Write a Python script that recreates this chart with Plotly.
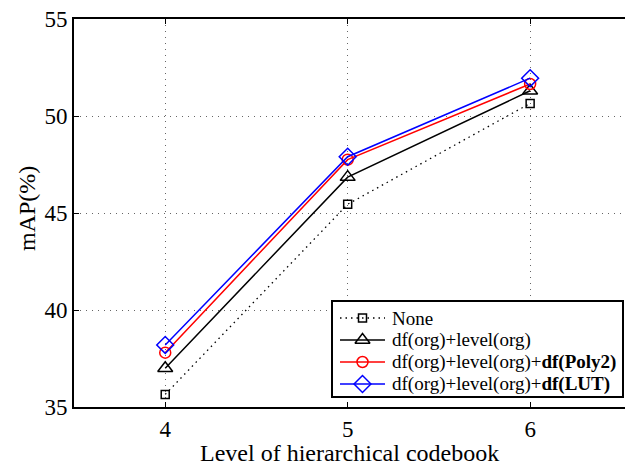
import plotly.graph_objects as go

# Codebook levels and mAP (%) for each feature configuration
levels = [4, 5, 6]
map_none = [35.65, 45.45, 50.65]
map_df_level = [37.0, 46.85, 51.3]
map_poly2 = [37.8, 47.75, 51.65]
map_lut = [38.2, 47.9, 51.95]

series_names = [
    "None",
    "df(org)+level(org)",
    "df(org)+level(org)+<b>df(Poly2)</b>",
    "df(org)+level(org)+<b>df(LUT)</b>",
]
x_ticks = [4, 5, 6]
y_ticks = [35, 40, 45, 50, 55]
x_title = "Level of hierarchical codebook"
y_title = "mAP(%)"

FONT = "Liberation Serif, Times New Roman, serif"
W, H = 625, 465
ML, MR, MT, MB = 74, 0, 19, 58
X_RANGE = [3.5, 6.52]
Y_RANGE = [35, 55]


def px_x(px):
    """Horizontal pixel position -> x-axis value."""
    return X_RANGE[0] + (px - ML) / (W - ML - MR) * (X_RANGE[1] - X_RANGE[0])


def px_y(py):
    """Vertical pixel position -> y-axis value."""
    return Y_RANGE[0] + (H - MB - py) / (H - MT - MB) * (Y_RANGE[1] - Y_RANGE[0])


def paper_x(px):
    return (px - ML) / (W - ML - MR)


def paper_y(py):
    return (H - MB - py) / (H - MT - MB)


styles = [
    dict(color="black", dash="1.5px,4px", width=1.3, symbol="square-open", size=8),
    dict(color="black", dash="solid", width=1.5, symbol="triangle-up-open", size=13),
    dict(color="red", dash="solid", width=1.5, symbol="circle-open", size=11),
    dict(color="blue", dash="solid", width=1.5, symbol="diamond-open", size=13),
]
all_series = [map_none, map_df_level, map_poly2, map_lut]

fig = go.Figure()
for name, vals, st in zip(series_names, all_series, styles):
    fig.add_trace(go.Scatter(
        x=levels, y=vals, name=name, mode="lines+markers", showlegend=False,
        line=dict(color=st["color"], dash=st["dash"], width=st["width"]),
        marker=dict(symbol=st["symbol"], size=st["size"], color=st["color"],
                    line=dict(color=st["color"], width=1.5)),
        cliponaxis=False,
    ))

# Legend box with a line/marker sample and label for each series
LEG_X0, LEG_X1, LEG_Y0, LEG_Y1 = 332, 623, 301, 397
row_y = [318, 340, 362, 384]
sample_x0, sample_x1, text_x = 340, 385, 390

fig.add_shape(
    type="rect", xref="x", yref="y",
    x0=px_x(LEG_X0), x1=px_x(LEG_X1), y0=px_y(LEG_Y1), y1=px_y(LEG_Y0),
    fillcolor="white", line=dict(color="black", width=2), layer="between",
)
for name, st, ry in zip(series_names, styles, row_y):
    fig.add_trace(go.Scatter(
        x=[px_x(sample_x0), px_x(sample_x1)], y=[px_y(ry), px_y(ry)],
        mode="lines", showlegend=False, hoverinfo="skip",
        line=dict(color=st["color"], dash=st["dash"], width=st["width"]),
    ))
    fig.add_trace(go.Scatter(
        x=[px_x((sample_x0 + sample_x1) / 2)], y=[px_y(ry)],
        mode="markers", showlegend=False, hoverinfo="skip",
        marker=dict(symbol=st["symbol"], size=st["size"], color=st["color"],
                    line=dict(color=st["color"], width=1.5)),
    ))
    fig.add_annotation(
        x=paper_x(text_x), y=paper_y(ry), xref="paper", yref="paper",
        text=name, showarrow=False, xanchor="left", yanchor="middle",
        font=dict(family=FONT, size=19, color="black"),
    )

# Axis titles
fig.add_annotation(
    x=paper_x((ML + W) / 2), y=paper_y(453), xref="paper", yref="paper",
    text=x_title, showarrow=False, xanchor="center", yanchor="middle",
    font=dict(family=FONT, size=24, color="black"),
)
fig.add_annotation(
    x=paper_x(27), y=paper_y(209), xref="paper", yref="paper",
    text=y_title, showarrow=False, textangle=-90, xanchor="center", yanchor="middle",
    font=dict(family=FONT, size=24, color="black"),
)

fig.update_layout(
    width=W, height=H,
    margin=dict(l=ML, r=MR, t=MT, b=MB),
    paper_bgcolor="white", plot_bgcolor="white",
    font=dict(family=FONT, size=23, color="black"),
    showlegend=False,
    xaxis=dict(
        range=X_RANGE, tickvals=x_ticks, ticks="inside", ticklen=5,
        tickwidth=1, tickcolor="black",
        showline=True, linecolor="black", linewidth=2, mirror="ticks",
        showgrid=True, gridcolor="#666666", griddash="1px,5px", gridwidth=1,
        zeroline=False, tickfont=dict(family=FONT, size=23),
    ),
    yaxis=dict(
        range=Y_RANGE, tickvals=y_ticks, ticks="inside", ticklen=5,
        tickwidth=1, tickcolor="black",
        showline=True, linecolor="black", linewidth=2, mirror=False,
        showgrid=True, gridcolor="#666666", griddash="1px,5px", gridwidth=1,
        zeroline=False, tickfont=dict(family=FONT, size=23),
    ),
)

fig.write_html("out.html")
